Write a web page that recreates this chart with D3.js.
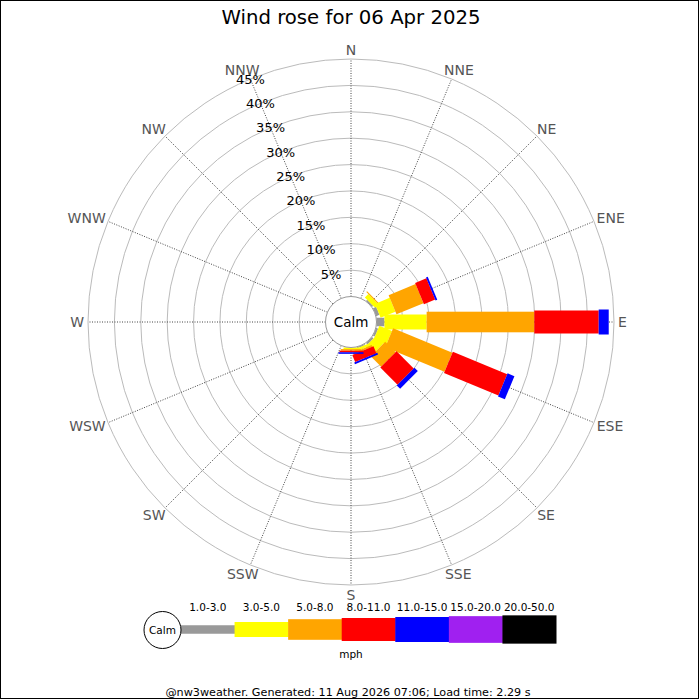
<!DOCTYPE html>
<html><head><meta charset="utf-8">
<script src="https://cdn.jsdelivr.net/npm/d3@7"></script>
<style>body{margin:0;background:#fff}svg{display:block;font-family:"DejaVu Sans",sans-serif}</style>
</head><body><svg id="c" width="700" height="700"></svg>
<script>
const title = "Wind rose for 06 Apr 2025";
const directions = ["N","NNE","NE","ENE","E","ESE","SE","SSE","S","SSW","SW","WSW","W","WNW","NW","NNW"];
const speedBins = ["1.0-3.0","3.0-5.0","5.0-8.0","8.0-11.0","11.0-15.0","15.0-20.0","20.0-50.0"];
//                 N  NNE  NE    ENE   E     ESE    SE   SSE   S   SSW SW WSW W WNW NW NNW
const pct1to3   = [0, 0, 0.30, 0.66, 1.5,  0.40, 0.40, 0.20, 0,   0,0,0,0,0,0,0];
const pct3to5   = [0, 0, 0.93, 3.03, 8.0,  2.60, 2.00, 0.50, 0.3, 0,0,0,0,0,0,0];
const pct5to8   = [0, 0, 0.20, 5.53, 20.4, 12.15,2.80, 0.34, 0.3, 0,0,0,0,0,0,0];
const pct8to11  = [0, 0, 0,    2.31, 12.2, 11.15,4.60, 1.44, 0.3, 0,0,0,0,0,0,0];
const pct11to15 = [0, 0, 0,    0.35, 1.9,  1.40, 0.90, 0.36, 0.3, 0,0,0,0,0,0,0];
const pct15to20 = [0, 0, 0,    0,    0,    0,    0,    0,    0,   0,0,0,0,0,0,0];
const pct20to50 = [0, 0, 0,    0,    0,    0,    0,    0,    0,   0,0,0,0,0,0,0];
const ringTicks = [5,10,15,20,25,30,35,40,45];
const tickLabels = ["5%","10%","15%","20%","25%","30%","35%","40%","45%"];
const unitLabel = "mph";
const calmLabel = "Calm";
const footer = "@nw3weather. Generated: 11 Aug 2026 07:06; Load time: 2.29 s";

// styles (kept apart from data)
const binColors = ["#999999","#ffff00","#ffa500","#ff0000","#0000ff","#a020f0","#000000"];
const binWidths = [8.5,15,20.6,23,25,26.7,28.3];

const seriesArrays = [pct1to3,pct3to5,pct5to8,pct8to11,pct11to15,pct15to20,pct20to50];
const table = directions.map((d,i)=>{
  const row = {dir:d};
  speedBins.forEach((b,k)=>row[b]=seriesArrays[k][i]);
  return row;
});
const stacked = d3.stack().keys(speedBins)(table);

const svg = d3.select("#c");
const cx = 351, cy = 322;
const r = d3.scaleLinear().domain([0,45]).range([25.5,263]);
const ang = d3.scalePoint().domain(directions).range([0,337.5]);
const rad = a => (a-90)*Math.PI/180;

svg.append("rect").attr("x",0.5).attr("y",0.5).attr("width",698).attr("height",698)
  .attr("fill","#fff").attr("stroke","#000").attr("stroke-width",1);

svg.append("text").attr("x",351).attr("y",24).attr("text-anchor","middle")
  .attr("font-size",19.7).attr("fill","#000").text(title);

const g = svg.append("g").attr("transform",`translate(${cx},${cy})`);

// rings
g.selectAll("circle.ring").data(ringTicks).join("circle").attr("class","ring")
  .attr("r",d=>r(d)).attr("fill","none").attr("stroke","#bbbbbb").attr("stroke-width",1);

// spokes
g.selectAll("line.spoke").data(directions).join("line").attr("class","spoke")
  .attr("x1",d=>r(0)*Math.cos(rad(ang(d)))).attr("y1",d=>r(0)*Math.sin(rad(ang(d))))
  .attr("x2",d=>r(45)*Math.cos(rad(ang(d)))).attr("y2",d=>r(45)*Math.sin(rad(ang(d))))
  .attr("stroke","#444").attr("stroke-width",1).attr("stroke-dasharray","1,1.5");

// direction labels: box pushed outside the outer ring
const labR = 267, halfH = 5.5;
g.selectAll("text.dir").data(directions).join("text").attr("class","dir")
  .attr("text-anchor","middle").attr("dominant-baseline","central")
  .attr("font-size",14).attr("fill","#555").text(d=>d)
  .each(function(d){
    const w = this.getComputedTextLength();
    const t = ang(d)*Math.PI/180;
    const x = labR*Math.sin(t) + (w/2)*Math.sin(t);
    const y = -labR*Math.cos(t) - halfH*Math.cos(t);
    d3.select(this).attr("x",x).attr("y",y);
  });

// percent labels along NNW
const labAng = rad(ang("NNW"));
g.selectAll("text.pct").data(ringTicks).join("text").attr("class","pct")
  .attr("x",d=>r(d)*Math.cos(labAng)).attr("y",d=>r(d)*Math.sin(labAng))
  .attr("text-anchor","middle").attr("dominant-baseline","central")
  .attr("font-size",13).attr("fill","#000").text((d,i)=>tickLabels[i]);

// bars
directions.forEach((dir,i)=>{
  const dg = g.append("g").attr("transform",`rotate(${ang(dir)})`);
  stacked.forEach((s,k)=>{
    const [y0,y1] = s[i];
    if (y1-y0<=0) return;
    dg.append("rect").attr("x",-binWidths[k]/2).attr("y",-r(y1))
      .attr("width",binWidths[k]).attr("height",r(y1)-r(y0)).attr("fill",binColors[k]);
  });
});

// calm circle
g.append("circle").attr("r",r(0)).attr("fill","#fff").attr("stroke","#999").attr("stroke-width",1);
g.append("text").attr("text-anchor","middle").attr("dominant-baseline","central")
  .attr("font-size",13.5).attr("fill","#000").text(calmLabel);

// legend
const lx = d3.scaleBand().domain(speedBins).range([181,556]);
const ly = 629.5;
const leg = svg.append("g");
leg.selectAll("rect").data(speedBins).join("rect")
  .attr("x",d=>lx(d)).attr("width",lx.bandwidth()+0.5)
  .attr("y",(d,k)=>ly-binWidths[k]/2).attr("height",(d,k)=>binWidths[k])
  .attr("fill",(d,k)=>binColors[k]);
leg.selectAll("text.bin").data(speedBins).join("text").attr("class","bin")
  .attr("x",d=>lx(d)+lx.bandwidth()/2).attr("y",611).attr("text-anchor","middle")
  .attr("font-size",10.5).attr("fill","#000").text(d=>d);
leg.append("circle").attr("cx",162.5).attr("cy",630).attr("r",18.5)
  .attr("fill","#fff").attr("stroke","#000").attr("stroke-width",1);
leg.append("text").attr("x",162.5).attr("y",630).attr("text-anchor","middle").attr("dominant-baseline","central")
  .attr("font-size",10.5).attr("fill","#000").text(calmLabel);
leg.append("text").attr("x",351).attr("y",658).attr("text-anchor","middle")
  .attr("font-size",10.5).attr("fill","#000").text(unitLabel);

svg.append("text").attr("x",348).attr("y",696).attr("text-anchor","middle")
  .attr("font-size",11.2).attr("fill","#000").text(footer);
</script></body></html>
